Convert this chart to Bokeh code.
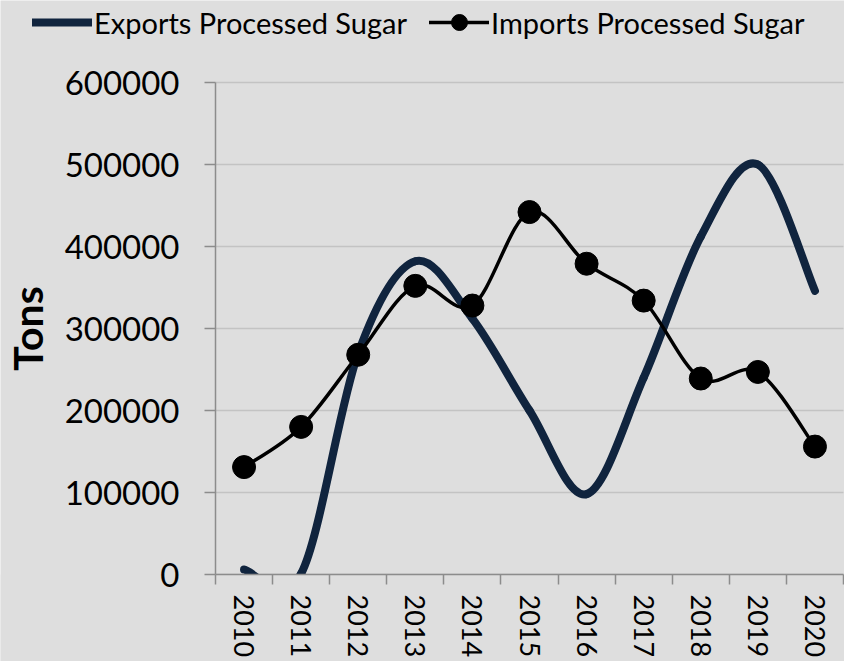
import math
import numpy as np
from bokeh.plotting import figure
from bokeh.models import (Range1d, FixedTicker, Legend, LegendItem, LinearAxis,
                          ColumnDataSource, BasicTickFormatter, BoxAnnotation)
from bokeh.embed import file_html
from bokeh.resources import INLINE

# ---- data ----
years = ["2010", "2011", "2012", "2013", "2014", "2015",
         "2016", "2017", "2018", "2019", "2020"]
exports = [6000, 1000, 270000, 382000, 312000, 200000,
           98000, 240000, 412000, 500000, 346000]
imports = [131000, 180000, 268000, 352000, 328000, 442000,
           379000, 334000, 239000, 247000, 156000]
y_ticks = [0, 100000, 200000, 300000, 400000, 500000, 600000]

n = len(years)
x_pos = list(range(n))


def smooth_source(xs, ys):
    """Bezier segments (Catmull-Rom style, like a spreadsheet 'smoothed line')."""
    xs = np.asarray(xs, float)
    ys = np.asarray(ys, float)
    m = len(xs)
    px = np.concatenate([[xs[0]], xs, [xs[-1]]])
    py = np.concatenate([[ys[0]], ys, [ys[-1]]])
    prev_x, prev_y = px[0:m - 1], py[0:m - 1]
    nxt_x, nxt_y = px[3:m + 2], py[3:m + 2]
    x0, y0 = xs[:-1], ys[:-1]
    x1, y1 = xs[1:], ys[1:]
    return ColumnDataSource(dict(
        x0=x0, y0=y0, x1=x1, y1=y1,
        cx0=x0 + (x1 - prev_x) / 6.0, cy0=y0 + (y1 - prev_y) / 6.0,
        cx1=x1 - (nxt_x - x0) / 6.0, cy1=y1 - (nxt_y - y0) / 6.0,
    ))


# ---- layout (pixels) ----
W, H = 844, 661
PLOT_L, PLOT_R = 215, 843      # category band edges
PLOT_T, PLOT_B = 82, 574       # top / bottom value lines
ux = n / (PLOT_R - PLOT_L)
uy = (y_ticks[-1] - y_ticks[0]) / (PLOT_B - PLOT_T)
x_lo = -0.5 - PLOT_L * ux
x_hi = n - 0.5 + (W - PLOT_R) * ux
y_lo = y_ticks[0] - (H - PLOT_B) * uy
y_hi = y_ticks[-1] + PLOT_T * uy

BG = "#dedede"
AXIS = "#8c8c8c"
GRID = "#c3c3c3"
FONT = "Lato"

p = figure(width=W, height=H,
           x_range=Range1d(x_lo, x_hi), y_range=Range1d(y_lo, y_hi),
           x_axis_location=None, y_axis_location=None,
           output_backend="svg", toolbar_location=None,
           min_border=0, min_border_left=0, min_border_right=0,
           min_border_top=0, min_border_bottom=0,
           background_fill_color=BG, border_fill_color=BG,
           outline_line_color=None)
p.xgrid.visible = False
p.ygrid.visible = False

# horizontal gridlines across the category band
p.segment(x0=[-0.5] * len(y_ticks), x1=[n - 0.5] * len(y_ticks),
          y0=y_ticks, y1=y_ticks, line_color=GRID, line_width=1.5,
          level="underlay")

# exports (drawn first, under imports)
exp_r = p.bezier(x0="x0", y0="y0", x1="x1", y1="y1",
                 cx0="cx0", cy0="cy0", cx1="cx1", cy1="cy1",
                 source=smooth_source(x_pos, exports),
                 line_color="#10243e", line_width=8, line_cap="round",
                 level="underlay")

# hide anything that dips below the value axis
p.add_layout(BoxAnnotation(top=y_ticks[0], fill_color=BG, fill_alpha=1,
                           line_color=None, level="glyph"))

imp_r = p.bezier(x0="x0", y0="y0", x1="x1", y1="y1",
                 cx0="cx0", cy0="cy0", cx1="cx1", cy1="cy1",
                 source=smooth_source(x_pos, imports),
                 line_color="black", line_width=3.5, line_cap="round")
imp_m = p.scatter(x=x_pos, y=imports, size=23, fill_color="black",
                  line_color="black")

# y axis
yaxis = LinearAxis(fixed_location=-0.5, bounds=(y_ticks[0], y_ticks[-1]),
                   ticker=FixedTicker(ticks=y_ticks),
                   formatter=BasicTickFormatter(use_scientific=False))
yaxis.major_label_text_font = FONT
yaxis.major_label_text_font_size = "33px"
yaxis.major_label_text_color = "black"
yaxis.axis_line_color = AXIS
yaxis.axis_line_width = 1.5
yaxis.major_tick_line_color = AXIS
yaxis.major_tick_line_width = 1.5
yaxis.major_tick_out = 11
yaxis.major_tick_in = 0
yaxis.minor_tick_line_color = None
yaxis.major_label_standoff = 25
yaxis.axis_label = "Tons"
yaxis.axis_label_text_font = FONT
yaxis.axis_label_text_font_style = "bold"
yaxis.axis_label_text_font_size = "41px"
yaxis.axis_label_text_color = "black"
yaxis.axis_label_standoff = 10
p.add_layout(yaxis, "left")

# x axis (category-like: ticks on the band edges, labels at centres)
xaxis = LinearAxis(fixed_location=y_ticks[0], bounds=(-0.5, n - 0.5),
                   ticker=FixedTicker(ticks=x_pos,
                                      minor_ticks=[i - 0.5 for i in range(n + 1)]))
xaxis.major_label_overrides = {i: years[i] for i in x_pos}
xaxis.major_label_orientation = -math.pi / 2
xaxis.major_label_text_font = FONT
xaxis.major_label_text_font_size = "27px"
xaxis.major_label_text_color = "black"
xaxis.major_label_standoff = 10
xaxis.major_tick_line_color = None
xaxis.major_tick_out = 0
xaxis.major_tick_in = 0
xaxis.minor_tick_line_color = AXIS
xaxis.minor_tick_line_width = 1.5
xaxis.minor_tick_out = 10
xaxis.minor_tick_in = 0
xaxis.axis_line_color = AXIS
xaxis.axis_line_width = 1.5
p.add_layout(xaxis, "below")

legend = Legend(items=[
    LegendItem(label="Exports Processed Sugar", renderers=[exp_r]),
    LegendItem(label="Imports Processed Sugar", renderers=[imp_r, imp_m]),
], orientation="horizontal", location=(32, H - 42),
    glyph_width=60, glyph_height=40, label_standoff=2, spacing=22,
    padding=0, margin=0, background_fill_alpha=0, border_line_color=None,
    label_text_font=FONT, label_text_font_size="29px",
    label_text_color="black")
p.add_layout(legend)

open("out.html", "w").write(file_html(p, INLINE))
